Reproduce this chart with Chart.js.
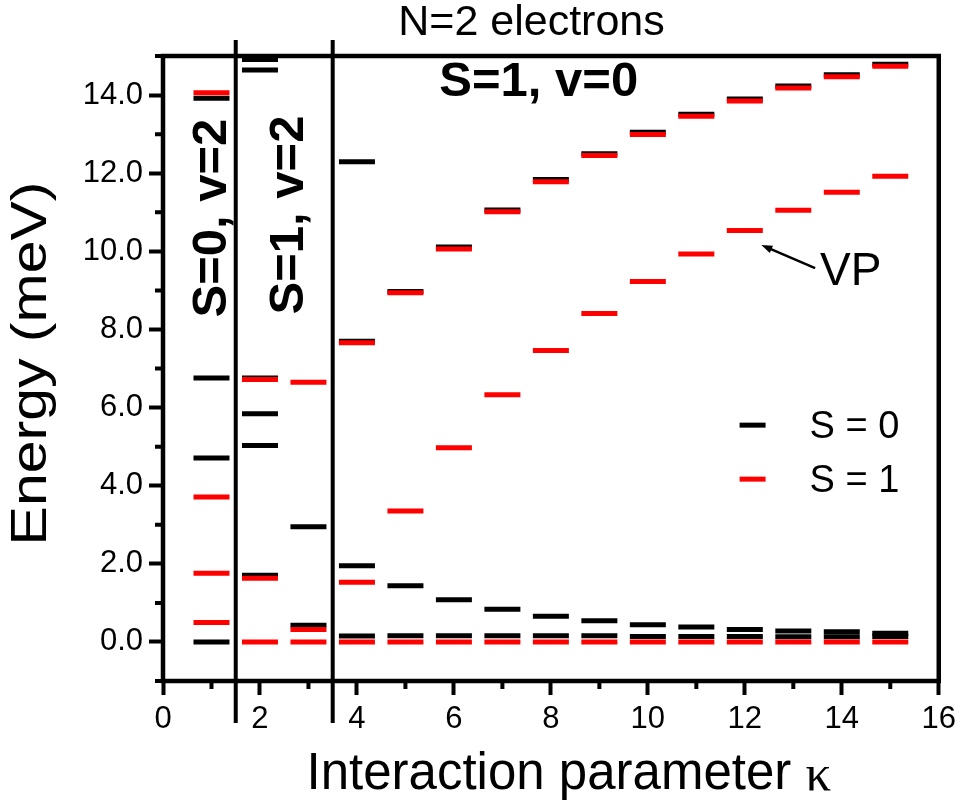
<!DOCTYPE html>
<html>
<head>
<title>N=2 electrons - energy levels</title>
<script src="https://cdn.jsdelivr.net/npm/chart.js"></script>
<style>
  body { margin: 0; background: #fff; }
</style>
</head>
<body>
<canvas id="levels" width="962" height="807"></canvas>
<script>
// interaction parameter values (one column of levels each)
const kappa = [1, 2, 3, 4, 5, 6, 7, 8, 9, 10, 11, 12, 13, 14, 15];

// energies in meV, spin singlet (S = 0)
const singletLevels = [
    [0.00, 4.71, 6.76, 13.92],
    [1.71, 5.03, 5.84, 6.76, 14.64, 14.91],
    [0.43, 2.95],
    [0.15, 1.95, 7.70, 12.29],
    [0.16, 1.44, 8.97],
    [0.16, 1.08, 10.11],
    [0.16, 0.84, 11.06],
    [0.16, 0.66, 11.84],
    [0.16, 0.54, 12.50],
    [0.14, 0.44, 13.05],
    [0.14, 0.38, 13.51],
    [0.14, 0.32, 13.90],
    [0.13, 0.28, 14.23],
    [0.13, 0.26, 14.52],
    [0.14, 0.22, 14.79]
];

// energies in meV, spin triplet (S = 1)
const tripletLevels = [
    [0.50, 1.76, 3.71, 14.06],
    [0.00, 1.63, 6.72],
    [0.00, 0.32, 6.65],
    [0.00, 1.53, 7.66],
    [0.00, 3.35, 8.94],
    [0.00, 4.97, 10.06],
    [0.00, 6.33, 11.01],
    [0.00, 7.46, 11.78],
    [0.00, 8.41, 12.45],
    [0.00, 9.23, 12.99],
    [0.00, 9.93, 13.46],
    [0.00, 10.53, 13.85],
    [0.00, 11.05, 14.18],
    [0.00, 11.51, 14.47],
    [0.00, 11.92, 14.74]
];

const seriesNames = ['S = 0', 'S = 1'];

// boundaries between the regimes
const regimeEdges = [1.5, 3.5];
const regimeLabels = [
    { text: 'S=0, v=2', x: 1.03, y: 10.85, vertical: true },
    { text: 'S=1, v=2', x: 2.61, y: 10.93, vertical: true },
    { text: 'S=1, v=0', x: 7.75, y: 14.33, vertical: false }
];
const vpNote = { text: 'VP', x: 13.55, y: 9.47, tail: [13.45, 9.57], tip: [12.34, 10.16] };

const FONT = '"Liberation Sans", Arial, sans-serif';

function toPoints(levels) {
    const pts = [];
    levels.forEach((col, i) => col.forEach(e => pts.push({ x: kappa[i], y: e })));
    return pts;
}

const decorations = {
    id: 'decorations',
    afterDraw(chart) {
        const ctx = chart.ctx;
        const area = chart.chartArea;
        const xs = chart.scales.x, ys = chart.scales.y;
        ctx.save();

        // minor ticks on odd values
        ctx.strokeStyle = '#000';
        ctx.lineWidth = 4;
        ctx.beginPath();
        for (let v = -1; v <= 15; v += 2) {
            const py = ys.getPixelForValue(v);
            ctx.moveTo(area.left - 8, py); ctx.lineTo(area.left, py);
        }
        for (let v = 1; v <= 15; v += 2) {
            const px = xs.getPixelForValue(v);
            ctx.moveTo(px, area.bottom); ctx.lineTo(px, area.bottom + 8);
        }
        ctx.stroke();

        // frame
        ctx.lineWidth = 4.5;
        ctx.strokeRect(area.left, area.top, area.right - area.left, area.bottom - area.top);

        // regime separators, running past the frame
        ctx.lineWidth = 4;
        ctx.beginPath();
        regimeEdges.forEach(v => {
            const px = xs.getPixelForValue(v);
            ctx.moveTo(px, area.top - 16); ctx.lineTo(px, area.bottom + 42);
        });
        ctx.stroke();

        // regime labels
        ctx.fillStyle = '#000';
        ctx.font = 'bold 49px ' + FONT;
        ctx.textAlign = 'center';
        ctx.textBaseline = 'middle';
        regimeLabels.forEach(l => {
            const px = xs.getPixelForValue(l.x), py = ys.getPixelForValue(l.y);
            ctx.save();
            ctx.translate(px, py);
            if (l.vertical) ctx.rotate(-Math.PI / 2);
            ctx.fillText(l.text, 0, 0);
            ctx.restore();
        });

        // VP arrow
        const tx = xs.getPixelForValue(vpNote.tail[0]), ty = ys.getPixelForValue(vpNote.tail[1]);
        const hx = xs.getPixelForValue(vpNote.tip[0]), hy = ys.getPixelForValue(vpNote.tip[1]);
        const ang = Math.atan2(hy - ty, hx - tx);
        ctx.lineWidth = 2.5;
        ctx.beginPath();
        ctx.moveTo(tx, ty); ctx.lineTo(hx - 6 * Math.cos(ang), hy - 6 * Math.sin(ang));
        ctx.stroke();
        ctx.beginPath();
        ctx.moveTo(hx, hy);
        ctx.lineTo(hx - 11 * Math.cos(ang) + 4 * Math.sin(ang), hy - 11 * Math.sin(ang) - 4 * Math.cos(ang));
        ctx.lineTo(hx - 11 * Math.cos(ang) - 4 * Math.sin(ang), hy - 11 * Math.sin(ang) + 4 * Math.cos(ang));
        ctx.closePath();
        ctx.fill();
        ctx.font = '46px ' + FONT;
        ctx.textAlign = 'left';
        ctx.fillText(vpNote.text, xs.getPixelForValue(vpNote.x), ys.getPixelForValue(vpNote.y));

        // legend
        const colors = ['#000', '#ff0000'];
        const lx = xs.getPixelForValue(12.16);
        ctx.font = '38px ' + FONT;
        seriesNames.forEach((name, i) => {
            const py = ys.getPixelForValue(5.55) + i * 54;
            ctx.strokeStyle = colors[i];
            ctx.lineWidth = 5;
            ctx.beginPath();
            ctx.moveTo(lx - 13, py); ctx.lineTo(lx + 13, py);
            ctx.stroke();
            ctx.fillText(name, lx + 57, py + 2);
        });

        // chart title
        ctx.font = '43px ' + FONT;
        ctx.textAlign = 'center';
        ctx.fillText('N=2 electrons', xs.getPixelForValue(7.6), area.top - 33);

        // axis titles
        ctx.font = '50px ' + FONT;
        ctx.save();
        ctx.translate(area.left - 131, (area.top + area.bottom) / 2 - 5);
        ctx.rotate(-Math.PI / 2);
        ctx.scale(1.18, 1);
        ctx.fillText('Energy (meV)', 0, 0);
        ctx.restore();

        ctx.font = '51px ' + FONT;
        const main = 'Interaction parameter ';
        const mw = ctx.measureText(main).width;
        ctx.font = '51px "Liberation Serif", "Times New Roman", serif';
        const kw = ctx.measureText('\u03ba').width;
        const cx = xs.getPixelForValue(8.37);
        const startX = cx - (mw + kw) / 2;
        const by = area.bottom + 94;
        ctx.textAlign = 'left';
        ctx.font = '51px ' + FONT;
        ctx.fillText(main, startX, by);
        ctx.font = '51px "Liberation Serif", "Times New Roman", serif';
        ctx.fillText('\u03ba', startX + mw, by + 2);

        ctx.restore();
    }
};

const tickColor = ctx => (ctx.tick && ctx.tick.value % 2 !== 0) ? 'rgba(0,0,0,0)' : '#000';

new Chart(document.getElementById('levels'), {
    type: 'scatter',
    data: {
        datasets: [{
            label: seriesNames[1],
            data: toPoints(tripletLevels),
            pointStyle: 'line',
            pointRadius: 18,
            pointHoverRadius: 18,
            borderColor: '#ff0000',
            backgroundColor: '#ff0000',
            pointBorderWidth: 5,
            borderWidth: 5
        }, {
            label: seriesNames[0],
            data: toPoints(singletLevels),
            pointStyle: 'line',
            pointRadius: 18,
            pointHoverRadius: 18,
            borderColor: '#000',
            backgroundColor: '#000',
            pointBorderWidth: 5,
            borderWidth: 5
        }]
    },
    options: {
        responsive: false,
        animation: false,
        events: [],
        layout: { padding: { top: 56, right: 21, left: 0, bottom: 0 } },
        plugins: {
            legend: { display: false },
            tooltip: { enabled: false }
        },
        scales: {
            x: {
                type: 'linear',
                min: 0,
                max: 16,
                afterFit: s => { s.height = 126; },
                border: { display: false },
                grid: { drawOnChartArea: false, drawTicks: true, tickLength: 14, tickWidth: 4, tickColor: tickColor },
                ticks: {
                    stepSize: 1,
                    autoSkip: false,
                    maxRotation: 0,
                    padding: 6,
                    color: '#000',
                    font: { family: FONT, size: 31 },
                    callback: v => v % 2 === 0 ? String(v) : ''
                }
            },
            y: {
                min: -1,
                max: 15,
                afterFit: s => { s.width = 163; },
                border: { display: false },
                grid: { drawOnChartArea: false, drawTicks: true, tickLength: 14, tickWidth: 4, tickColor: tickColor },
                ticks: {
                    stepSize: 1,
                    autoSkip: false,
                    padding: 6,
                    color: '#000',
                    font: { family: FONT, size: 31 },
                    callback: v => v % 2 === 0 ? v.toFixed(1) : ''
                }
            }
        }
    },
    plugins: [decorations]
});
</script>
</body>
</html>
